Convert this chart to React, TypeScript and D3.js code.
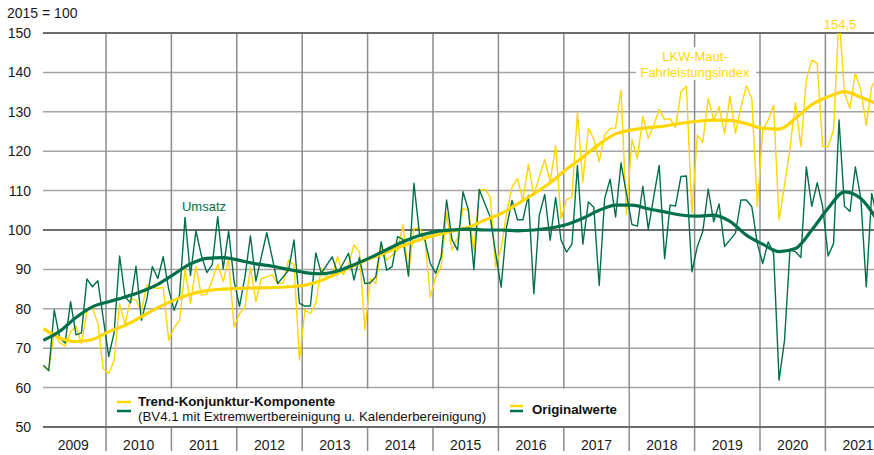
import { useEffect, useRef } from 'react';
import * as d3 from 'd3';

const WIDTH = 874;
const HEIGHT = 455;

const years = [2009, 2010, 2011, 2012, 2013, 2014, 2015, 2016, 2017, 2018, 2019, 2020, 2021];
const yTicks = [50, 60, 70, 80, 90, 100, 110, 120, 130, 140, 150];

// Umsatz, Originalwerte (monthly from Jan 2009)
const umsatzOriginal = [
  65.7, 64.3, 79.7, 72.6, 71.3, 81.8, 73.4, 73.9, 87.6, 85.6, 87.1, 77.5,
  67.9, 74.0, 93.4, 83.0, 81.5, 90.8, 77.1, 82.5, 90.7, 87.7, 93.2, 85.0,
  79.6, 83.5, 103.2, 88.5, 99.8, 93.5, 89.2, 91.2, 103.4, 90.2, 99.7, 87.0,
  80.6, 88.1, 98.5, 87.0, 93.2, 99.3, 93.0, 86.4, 88.1, 89.8, 97.5, 81.4,
  80.7, 80.7, 94.2, 89.0, 91.1, 93.2, 89.0, 91.5, 94.1, 87.3, 93.0, 86.4,
  86.6, 88.1, 97.0, 89.8, 90.7, 98.3, 97.6, 88.3, 111.9, 99.2, 97.6, 91.5,
  89.0, 93.2, 107.6, 97.5, 94.9, 109.7, 105.0, 89.9, 110.3, 106.7, 103.3, 94.0,
  85.5, 100.8, 107.5, 102.6, 102.6, 108.8, 83.8, 103.7, 109.0, 97.4, 108.2, 97.4,
  94.4, 96.4, 116.4, 96.4, 107.1, 105.8, 85.9, 108.0, 112.9, 103.3, 117.0, 109.2,
  101.4, 101.0, 111.1, 100.2, 108.4, 116.4, 92.7, 106.3, 106.1, 113.6, 113.7, 89.4,
  95.8, 99.6, 110.4, 102.1, 106.6, 95.8, 97.5, 99.2, 107.6, 107.6, 105.9, 96.6,
  91.5, 97.0, 94.0, 61.9, 72.0, 94.9, 94.5, 93.0, 116.0, 106.0, 112.0, 105.9,
  93.4, 96.6, 127.9, 106.0, 104.7, 116.0, 108.0, 85.6, 109.3, 103.0,
];

// LKW-Maut-Fahrleistungsindex, Originalwerte
const mautOriginal = [
  65.3, 64.6, 74.0, 71.4, 70.5, 74.2, 75.6, 71.2, 79.6, 80.3, 76.3, 64.8,
  63.6, 66.9, 81.2, 76.0, 82.6, 82.2, 79.5, 86.0, 85.4, 85.2, 85.4, 72.0,
  75.2, 77.1, 90.0, 81.4, 90.7, 83.5, 83.7, 87.3, 91.3, 86.9, 92.6, 75.4,
  78.8, 80.5, 90.5, 81.8, 87.7, 88.1, 88.6, 86.4, 86.6, 92.4, 91.1, 67.0,
  79.7, 78.8, 81.4, 90.3, 88.1, 88.6, 93.2, 88.6, 91.1, 96.2, 94.5, 74.6,
  87.7, 86.4, 95.8, 92.4, 93.6, 94.9, 101.3, 88.6, 100.4, 100.4, 98.3, 83.0,
  88.1, 90.7, 104.2, 94.9, 97.9, 105.5, 105.0, 94.8, 110.1, 110.3, 108.4, 90.6,
  95.3, 104.2, 110.9, 113.0, 107.5, 116.7, 108.8, 113.5, 117.9, 112.2, 121.4, 102.9,
  107.7, 108.4, 129.8, 112.2, 125.8, 123.2, 117.3, 124.1, 125.8, 125.9, 135.5, 104.0,
  123.0, 118.1, 128.9, 123.2, 126.6, 130.6, 128.0, 128.3, 126.0, 135.1, 136.5, 104.2,
  124.1, 122.2, 133.4, 127.9, 131.3, 124.5, 134.0, 124.5, 131.1, 136.6, 133.4, 105.9,
  125.4, 127.9, 131.7, 102.5, 111.4, 120.7, 132.3, 121.2, 138.1, 143.1, 142.3, 121.2,
  121.2, 125.4, 154.5, 134.7, 130.9, 139.8, 135.5, 126.6, 136.4, 138.5,
];

// Trend-Konjunktur-Komponente, read every third month
const trendMonths = [
  0, 3, 6, 9, 12, 15, 18, 21, 24, 27, 30, 33, 36, 39, 42, 45, 48, 51, 54, 57,
  60, 63, 66, 69, 72, 75, 78, 81, 84, 87, 90, 93, 96, 99, 102, 105, 108, 111,
  114, 117, 120, 123, 126, 129, 132, 135, 138, 141, 144, 147, 150, 153,
];
const umsatzTrend = [
  72.0, 74.3, 77.8, 80.5, 81.8, 83.0, 84.4, 86.2, 88.8, 91.4, 92.8, 93.0, 92.3, 91.4, 90.8, 90.0, 89.2, 88.9, 89.6, 91.2,
  93.0, 95.0, 97.0, 98.6, 99.6, 100.0, 100.2, 100.0, 100.0, 99.8, 100.0, 100.5, 101.4, 103.0, 105.0, 106.3, 106.3, 105.4,
  104.6, 103.8, 103.5, 103.8, 102.2, 98.7, 96.4, 94.5, 95.3, 100.0, 105.5, 109.7, 108.0, 102.5,
];
const mautTrend = [
  75.0, 72.6, 71.7, 72.2, 74.2, 75.8, 78.0, 80.3, 82.2, 83.7, 84.6, 85.0, 85.2, 85.3, 85.4, 85.6, 86.0, 87.2, 89.0, 91.0,
  92.8, 94.4, 96.0, 97.5, 98.7, 99.7, 100.7, 102.5, 104.2, 106.6, 109.2, 112.0, 115.4, 118.5, 121.8, 124.4, 125.4, 126.0,
  126.4, 127.1, 127.6, 127.9, 127.8, 127.0, 125.8, 125.6, 128.3, 131.8, 133.8, 135.1, 133.7, 132.0,
];

const GREEN = '#00704a';
const YELLOW = '#ffd600';
const FONT = '"Liberation Sans", Arial, Helvetica, sans-serif';

const App = () => {
  const svgRef = useRef(null);

  useEffect(() => {
    document.body.style.margin = '0';
    const svg = d3.select(svgRef.current);
    svg.selectAll('*').remove();

    // month boundaries: 0 = start of 2009, 156 = end of 2021
    const x = d3.scaleLinear().domain([0, 156]).range([40.6, 890.8]);
    const y = d3.scaleLinear().domain([50, 150]).range([427, 33]);
    const plotLeft = 43;
    const plotRight = WIDTH;

    svg.append('text')
      .attr('x', 7).attr('y', 18)
      .attr('font-family', FONT).attr('font-size', 14).attr('fill', '#1a1a1a')
      .text('2015 = 100');

    // horizontal grid
    const isDark = (v) => v === 50 || v === 100 || v === 150;
    svg.append('g').selectAll('line')
      .data(yTicks.filter(v => !isDark(v)))
      .join('line')
      .attr('x1', plotLeft).attr('x2', plotRight)
      .attr('y1', d => y(d)).attr('y2', d => y(d))
      .attr('stroke', '#a3a3a3').attr('stroke-width', 1.5);

    // vertical grid at year boundaries
    const boundaries = years.slice(1).map((yr, i) => (i + 1) * 12);
    svg.append('g').selectAll('line')
      .data(boundaries)
      .join('line')
      .attr('x1', d => x(d)).attr('x2', d => x(d))
      .attr('y1', y(150)).attr('y2', 451)
      .attr('stroke', '#8c8c8c').attr('stroke-width', 1.5);

    // legend boxes cover the grid
    const yr = (year) => x((year - 2009) * 12);
    svg.append('rect')
      .attr('x', yr(2010) + 1).attr('y', y(60) + 1)
      .attr('width', yr(2018) - yr(2010) - 2).attr('height', y(50) - y(60) - 2)
      .attr('fill', '#fff');
    svg.append('line')
      .attr('x1', yr(2016)).attr('x2', yr(2016))
      .attr('y1', y(60)).attr('y2', y(50))
      .attr('stroke', '#8c8c8c').attr('stroke-width', 1.5);

    svg.append('g').selectAll('line')
      .data(yTicks.filter(isDark))
      .join('line')
      .attr('x1', plotLeft).attr('x2', plotRight)
      .attr('y1', d => y(d)).attr('y2', d => y(d))
      .attr('stroke', '#6b6b6b').attr('stroke-width', 2);

    // y tick labels
    svg.append('g').selectAll('text')
      .data(yTicks)
      .join('text')
      .attr('x', 31).attr('y', d => y(d) + 5)
      .attr('text-anchor', 'end')
      .attr('font-family', FONT).attr('font-size', 14).attr('fill', '#1a1a1a')
      .text(d => d);

    // year labels
    svg.append('g').selectAll('text')
      .data(years)
      .join('text')
      .attr('x', (d, i) => x(i * 12 + 6)).attr('y', 450)
      .attr('text-anchor', 'middle')
      .attr('font-family', FONT).attr('font-size', 14).attr('fill', '#1a1a1a')
      .text(d => d);

    // clip for series
    svg.append('defs').append('clipPath').attr('id', 'plot-clip')
      .append('rect')
      .attr('x', plotLeft).attr('y', y(150))
      .attr('width', plotRight - plotLeft).attr('height', y(50) - y(150));

    const series = svg.append('g').attr('clip-path', 'url(#plot-clip)');

    const rawLine = d3.line()
      .x((d, i) => x(i + 0.5))
      .y(d => y(d));

    const trendLine = d3.line()
      .x((d, i) => x(trendMonths[i] + 0.5))
      .y(d => y(d))
      .curve(d3.curveMonotoneX);

    series.append('path').attr('d', rawLine(mautOriginal))
      .attr('fill', 'none').attr('stroke', YELLOW).attr('stroke-width', 1.4)
      .attr('stroke-linejoin', 'round');
    series.append('path').attr('d', rawLine(umsatzOriginal))
      .attr('fill', 'none').attr('stroke', GREEN).attr('stroke-width', 1.4)
      .attr('stroke-linejoin', 'round');
    series.append('path').attr('d', trendLine(mautTrend))
      .attr('fill', 'none').attr('stroke', YELLOW).attr('stroke-width', 3.2);
    series.append('path').attr('d', trendLine(umsatzTrend))
      .attr('fill', 'none').attr('stroke', GREEN).attr('stroke-width', 3.2);

    // annotations
    svg.append('text')
      .attr('x', 204).attr('y', 211)
      .attr('text-anchor', 'middle')
      .attr('font-family', FONT).attr('font-size', 13).attr('fill', GREEN)
      .text('Umsatz');

    svg.append('rect')
      .attr('x', 636).attr('y', 47).attr('width', 120).attr('height', 33)
      .attr('fill', '#fff');
    const maut = svg.append('text')
      .attr('text-anchor', 'middle')
      .attr('font-family', FONT).attr('font-size', 13).attr('fill', YELLOW);
    maut.append('tspan').attr('x', 695).attr('y', 61).text('LKW-Maut-');
    maut.append('tspan').attr('x', 695).attr('y', 77).text('Fahrleistungsindex');

    svg.append('text')
      .attr('x', 840).attr('y', 29)
      .attr('text-anchor', 'middle')
      .attr('font-family', FONT).attr('font-size', 13).attr('fill', YELLOW)
      .text('154,5');

    // legend
    const legend = svg.append('g');
    legend.append('line').attr('x1', 117).attr('x2', 131).attr('y1', 402).attr('y2', 402)
      .attr('stroke', YELLOW).attr('stroke-width', 2.5);
    legend.append('line').attr('x1', 117).attr('x2', 131).attr('y1', 411).attr('y2', 411)
      .attr('stroke', GREEN).attr('stroke-width', 2.5);
    legend.append('text')
      .attr('x', 138).attr('y', 406)
      .attr('font-family', FONT).attr('font-size', 13.3).attr('font-weight', 'bold').attr('fill', '#111')
      .text('Trend-Konjunktur-Komponente');
    legend.append('text')
      .attr('x', 138).attr('y', 421)
      .attr('font-family', FONT).attr('font-size', 13.3).attr('fill', '#111')
      .text('(BV4.1 mit Extremwertbereinigung u. Kalenderbereinigung)');

    legend.append('line').attr('x1', 510).attr('x2', 523).attr('y1', 406).attr('y2', 406)
      .attr('stroke', YELLOW).attr('stroke-width', 2.5);
    legend.append('line').attr('x1', 510).attr('x2', 523).attr('y1', 411).attr('y2', 411)
      .attr('stroke', GREEN).attr('stroke-width', 2.5);
    legend.append('text')
      .attr('x', 532).attr('y', 414)
      .attr('font-family', FONT).attr('font-size', 13.3).attr('font-weight', 'bold').attr('fill', '#111')
      .text('Originalwerte');
  }, []);

  return <svg ref={svgRef} width={WIDTH} height={HEIGHT} style={{ display: 'block' }} />;
};

export default App;
